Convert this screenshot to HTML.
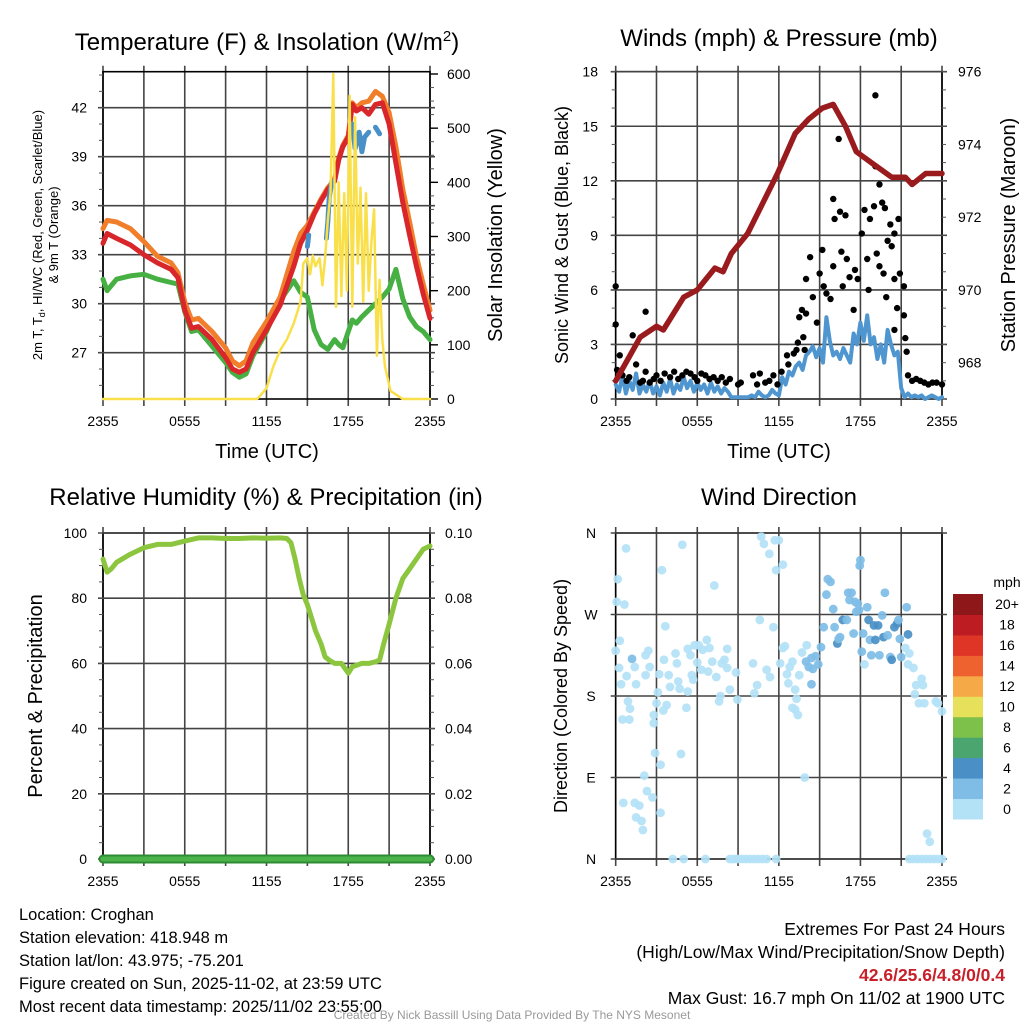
<!DOCTYPE html>
<html><head><meta charset="utf-8"><style>
html,body{margin:0;padding:0;background:#fff;}
svg{display:block;font-family:"Liberation Sans",Arial,sans-serif;}
</style></head><body>
<svg id="fig" width="1024" height="1024" viewBox="0 0 1024 1024" xmlns="http://www.w3.org/2000/svg">
<rect x="0" y="0" width="1024" height="1024" fill="#fff"/>
<text x="267" y="50" font-size="24" text-anchor="middle">Temperature (F) &amp; Insolation (W/m<tspan dy="-9" font-size="15">2</tspan><tspan dy="9">)</tspan></text>
<text x="779" y="46" font-size="24" text-anchor="middle">Winds (mph) &amp; Pressure (mb)</text>
<text x="266" y="505" font-size="24" text-anchor="middle">Relative Humidity (%) &amp; Precipitation (in)</text>
<text x="779" y="505" font-size="24" text-anchor="middle">Wind Direction</text>
<text transform="translate(42,235) rotate(-90)" font-size="13" text-anchor="middle">2m T, T<tspan dy="3" font-size="9">d</tspan><tspan dy="-3">, HI/WC (Red, Green, Scarlet/Blue)</tspan></text>
<text transform="translate(58,235) rotate(-90)" font-size="13" text-anchor="middle">&amp; 9m T (Orange)</text>
<text transform="translate(502,235) rotate(-90)" font-size="20" text-anchor="middle">Solar Insolation (Yellow)</text>
<text transform="translate(568,235) rotate(-90)" font-size="18" text-anchor="middle">Sonic Wind &amp; Gust (Blue, Black)</text>
<text transform="translate(1015,235) rotate(-90)" font-size="20" text-anchor="middle">Station Pressure (Maroon)</text>
<text transform="translate(42,696) rotate(-90)" font-size="20" text-anchor="middle">Percent &amp; Precipitation</text>
<text transform="translate(567,696) rotate(-90)" font-size="18" text-anchor="middle">Direction (Colored By Speed)</text>
<text x="267" y="458" font-size="20" text-anchor="middle">Time (UTC)</text>
<text x="779" y="458" font-size="20" text-anchor="middle">Time (UTC)</text>
<g font-size="16.5">
<text x="19" y="920">Location: Croghan</text>
<text x="19" y="943">Station elevation: 418.948 m</text>
<text x="19" y="966">Station lat/lon: 43.975; -75.201</text>
<text x="19" y="989">Figure created on Sun, 2025-11-02, at 23:59 UTC</text>
<text x="19" y="1012">Most recent data timestamp: 2025/11/02 23:55:00</text>
</g>
<g font-size="17.5" text-anchor="end">
<text x="1005" y="935">Extremes For Past 24 Hours</text>
<text x="1005" y="958">(High/Low/Max Wind/Precipitation/Snow Depth)</text>
<text x="1005" y="981" font-weight="bold" fill="#c8202a">42.6/25.6/4.8/0/0.4</text>
<text x="1005" y="1004">Max Gust: 16.7 mph On 11/02 at 1900 UTC</text>
</g>
<text x="512" y="1019" font-size="12" fill="#999" text-anchor="middle">Created By Nick Bassill Using Data Provided By The NYS Mesonet</text>
<g id="layer"></g>
</svg>
<script>
// ---- Data ----
var timeTicks = ["2355","0555","1155","1755","2355"];
var tempHours = [0,0.3,1,2,3,4,5,5.5,6,6.5,7,8,9,9.5,10,10.5,11,12,13,14,14.5,15,15.5,16,16.5,17,17.3,17.6,18,18.3,18.6,19,19.5,20,20.5,21,21.5,22,22.5,23,23.5,24];
var tempRed = [33.7,34.3,34,33.6,33,32.5,32.1,31.6,29.6,28.5,28.6,27.8,26.7,26,25.8,26,27,28.4,29.9,32.3,33.7,34.5,35.5,36.3,37,37.5,38.8,39.6,40.2,42.2,41.8,42.0,41.6,42.2,42.3,41.0,38.6,36.2,34.2,32.3,30.6,29.1];
var tempOrange = [34.6,35.1,35,34.6,33.8,32.9,32.5,31.9,30.1,29,29.1,28.3,27.3,26.5,26.2,26.5,27.6,28.9,30.4,33.2,34.3,34.8,35.6,36.4,37.1,37.6,38.9,39.7,40.3,42.3,42.0,42.3,42.4,43.0,42.7,41.7,39.6,37.0,35.0,32.9,31.2,29.6];
var tempGreen = [31.5,30.8,31.5,31.7,31.8,31.5,31.3,31.2,29.5,28.3,28.4,27.4,26.4,25.8,25.5,25.7,26.8,28.3,30.2,31.4,30.7,30.4,28.4,27.5,27.2,27.8,27.5,27.3,28.3,29.0,28.8,29.2,29.6,30.0,30.4,30.9,32.1,30.3,29.2,28.6,28.3,27.8];
var chillHours = [15,15.1,null,16.4,16.5,16.6,16.8,null,18.3,18.5,18.8,19,19.2,19.5,null,20,20.3];
var chillVals = [33.5,34.2,null,34,35,36.5,37.5,null,41,39.5,40.5,39.3,40.2,40.5,null,40.8,40.4];
var solarHours = [0,11.3,11.5,12,12.5,13,13.5,14,14.5,14.7,15,15.2,15.4,15.6,15.9,16.1,16.3,16.5,16.7,16.9,17.1,17.3,17.5,17.7,17.9,18.1,18.3,18.5,18.7,18.9,19.1,19.3,19.5,19.7,19.9,20.1,20.3,20.5,20.7,21.1,22,24];
var solarVals = [0,0,5,20,60,90,110,140,180,250,260,230,265,245,260,210,260,330,380,600,170,400,190,380,200,560,170,520,250,390,180,380,200,290,350,80,220,110,60,15,0,0];
var tempTicks = [27,30,33,36,39,42];
var solarTicks = [0,100,200,300,400,500,600];

var presHours = [0,1.8,3,3.5,5,6,7.3,7.9,8.5,9.7,10.7,11.9,13.2,14.2,15.2,16,16.9,17.7,18.8,20.3,21.3,21.8,22.8,24];
var presVals = [967.5,968.7,969.0,968.9,969.8,970.0,970.6,970.5,971.0,971.55,972.3,973.2,974.3,974.7,975.0,975.1,974.5,973.8,973.5,973.1,973.1,972.9,973.2,973.2];
var windVals = [0.8,0.4,1.3,0.3,1.0,0.5,1.4,0.3,0.8, 0.4,1.0,0.3,0.7,0.2,0.9,0.4,1.1, 0.3,0.8,0.5,1.2,0.6,1.0,0.4,0.9, 0.5,0.8,0.3,0.9,0.4,0.7,0.3,0.6, 0.4,0.1,0.1,0.1,0.1,0.1,0.1,0.2, 0.1,0.4,0.2,0.1,0.2,0.5,0.3,0.2, 1.2,0.8,1.5,1.3,1.8,2.0,1.6,2.4, 2.6,2.9,2.3,2.8,2.0,4.5,3.2,2.4, 2.6,2.2,2.8,2.4,2.0,3.6,3.0,4.2, 3.2,4.6,3.0,3.4,2.2,3.0,2.0,3.8, 3.0,2.4,2.6,0.6,0.1,0.3,0.1,0.2, 0.1,0.2,0.0,0.1,0.2,0.1,0.0,0.1];
var gustHours = [0,0,0.1,0.3,0.5,0.8,1.0,1.25,1.5,1.8,2.0,2.2,2.2,2.5,2.8,3.0,3.3,3.6,4.0,4.3,4.6,4.9,5.2,5.5,5.8,6.0,6.3,6.6,6.9,7.2,7.5,7.8,8.1,8.4,9.0,9.2,10.1,10.4,10.6,11.0,11.3,11.6,11.9,12.2,12.6,12.7,13.1,13.3,13.4,13.5,13.7,13.8,13.9,14.0,14.0,14.3,14.5,14.8,15.0,15.2,15.3,15.5,15.8,16.0,16.0,16.1,16.4,16.5,16.6,16.7,16.9,17.0,17.2,17.5,17.6,17.8,18.1,18.3,18.5,18.6,18.7,19.0,19.1,19.1,19.2,19.4,19.4,19.6,19.7,19.8,19.9,20.0,20.2,20.3,20.5,20.5,20.5,20.7,20.8,20.9,21.2,21.2,21.3,21.4,21.5,21.8,22.1,22.4,22.7,23.0,23.3,23.6,24];
var gustVals = [4.1,6.2,1.6,2.4,1.3,1.0,1.2,3.5,1.9,0.9,1.0,1.5,4.8,0.9,1.1,1.3,1.0,1.4,1.2,1.5,1.1,1.3,1.5,1.4,1.2,1.0,1.4,1.3,1.1,1.2,1.0,1.2,0.9,1.1,0.8,0.9,1.3,0.8,1.4,0.9,1.0,1.3,0.8,1.5,2.4,1.9,2.5,2.7,3.1,4.5,4.9,3.4,2.7,6.6,4.7,7.8,5.6,4.2,6.9,8.2,6.2,5.8,5.5,7.3,11.0,9.9,14.3,10.3,8.1,6.2,10.1,7.7,6.7,4.9,7.1,6.6,9.1,10.4,7.7,6.0,9.9,10.6,16.7,12.8,8.0,11.8,7.3,10.8,6.9,10.5,5.6,8.7,9.6,8.4,9.1,6.6,3.8,5.0,9.9,6.9,6.2,4.6,3.35,2.6,1.3,1.0,1.1,1.0,0.9,0.8,0.9,0.9,0.8];
var windTicks = [0,3,6,9,12,15,18];
var presTicks = [968,970,972,974,976];

var rhHours = [0,0.3,0.6,1,2,3,4,5,6,7,8,9,10,11,12,13,13.5,13.8,14.1,14.4,14.7,15,15.3,15.6,16,16.3,16.6,17,17.5,18,18.3,19,19.5,20,20.3,20.6,21,21.5,22,22.5,23,23.5,24];
var rhVals = [92,88,89,91,93.5,95.5,96.5,96.5,97.5,98.5,98.5,98.3,98.3,98.5,98.4,98.5,98.3,97,92,86,81,78,74,70,66,62,61,60,60,57,59,60,60,60.5,61,66,72,80,86,89,92,95,96];
var precipHours = [0,24];
var precipVals = [0,0];
var rhTicks = [0,20,40,60,80,100];
var precipTicks = ["0.00","0.02","0.04","0.06","0.08","0.10"];

var dirHours = [0.76,0.15,0.07,0.64,0.3,0,0.25,0.4,0.8,1.2,1.4,1.5,0.9,1.05,0.5,1.0,0.56,1.4,1.74,1.5,1.9,2.0,2.1,2.3,2.7,2.9,3.3,3.3,2.2,2.2,2.4,2.5,2.8,2.8,3.0,3.1,3.2,3.4,3.65,3.55,3.75,3.5,3.9,4.0,4.4,4.5,4.6,4.7,4.9,4.8,5.2,5.3,5.3,5.5,5.6,5.7,5.8,6.0,6.1,6.3,6.4,6.7,6.8,6.9,7.1,7.25,7.4,7.6,7.7,7.8,8.0,8.2,8.2,8.4,8.85,8.95,4.2,5.0,6.6,8.4,8.6,8.8,9.0,9.3,9.6,9.9,10.2,10.5,10.8,11.1,11.8,10.7,10.9,11.3,11.7,12.0,11.8,12.3,10.6,11.6,10.1,10.4,10.2,11.1,11.35,12.1,12.3,12.45,12.6,12.7,12.8,13.0,13.2,13.3,13.0,13.2,13.4,13.5,13.9,14.05,13.7,14.0,14.2,14.4,14.5,14.7,14.9,14.4,15.1,15.3,15.5,15.6,15.8,16.0,16.1,16.3,16.4,16.5,16.7,17.0,17.1,17.35,17.2,17.6,17.8,17.5,17.7,17.9,18.0,17.95,18.1,18.2,18.3,18.5,18.6,18.7,18.8,19.1,19.0,19.3,19.4,19.6,19.7,19.8,20.0,20.2,20.3,20.5,20.7,20.8,20.9,21.0,21.4,21.5,21.3,21.6,21.5,21.9,22.1,22.5,22.6,22.0,22.3,22.7,23.55,23.7,24,22.9,23.1,21.6,21.9,22.2,22.5,22.8,23.1,23.4,23.7,24];
var dirVals = [343,309,284,281,241,230,211,193,202,221,212,193,174,166,154,154,62,62,59,46,42,32,92,75,68,117,104,51,203,225,230,212,159,150,172,184,204,319,257,220,170,164,203,190,227,216,196,188,347,116,167,185,232,225,203,198,236,217,236,209,231,242,207,233,218,302,201,174,180,216,220,232,211,187,206,176,0,0,0,0,0,0,0,0,0,0,0,0,0,0,0,356,348,337,352,352,319,325,264,256,216,192,183,209,201,216,233,235,204,194,212,218,187,177,167,165,159,203,90,236,228,218,212,222,210,224,215,193,234,256,292,309,306,276,256,238,243,245,264,264,294,294,286,284,282,249,273,275,330,324,229,249,215,278,264,242,225,242,258,258,225,269,245,294,247,223,220,256,260,264,243,223,278,248,233,227,215,211,192,199,192,182,172,172,174,172,163,28,19,0,0,0,0,0,0,0,0,0];
var dirSpeeds = [1,1,1,1,1,1,1,1,1,3,1,1,1,1,1,1,1,1,1,1,1,1,1,1,1,1,1,1,1,1,1,1,1,1,1,1,1,1,1,1,1,1,1,1,1,1,1,1,1,1,1,1,1,1,1,1,1,1,1,1,1,1,1,1,1,1,1,1,1,1,1,1,1,1,1,1,1,1,1,1,1,1,1,1,1,1,1,1,1,1,1,1,1,1,1,1,1,1,1,1,1,1,1,1,1,1,1,1,1,1,1,1,1,1,1,1,1,1,1,1,1,3,3,3,3,3,3,3,3,3,3,3,3,3,3,5,3,3,5,3,3,3,3,3,3,3,3,3,3,3,3,3,1,3,5,3,3,5,5,5,3,3,5,3,3,3,5,5,5,3,3,3,3,5,1,1,1,1,1,1,1,1,1,1,1,1,1,1,1,1,1,1,1,1,1,1,1,1,1,1,1];
var dirTicks = ["N","E","S","W","N"];
var cbarLabels = ["0","2","4","6","8","10","12","14","16","18","20+"];
var cbarColors = ["#b3e2f7","#7fbde6","#4a90c6","#4aa66e","#7ec14a","#e6e05a","#f5a947","#ee6230","#de3527","#bd1c23","#8e1719"];

// ---- helpers ----
var NS = "http://www.w3.org/2000/svg";
var layer = document.getElementById("layer");
function mk(tag, attrs, parent) {
  var e = document.createElementNS(NS, tag);
  for (var k in attrs) e.setAttribute(k, attrs[k]);
  (parent || layer).appendChild(e);
  return e;
}
function panel(x0, x1, y0, y1) {
  return { x0: x0, x1: x1, y0: y0, y1: y1,
    sx: function (h) { return x0 + (x1 - x0) * h / 24; } };
}
function lin(v0, v1, p0, p1) { return function (v) { return p0 + (v - v0) * (p1 - p0) / (v1 - v0); }; }

function drawFrame(P, name) {
  var g = mk("g", {});
  
  
  for (var i = 0; i <= 8; i++) {
    var x = P.x0 + (P.x1 - P.x0) * i / 8;
    var l = mk("line", { x1: x, x2: x, y1: P.y0 - 6, y2: P.y1 + 7, stroke: "#444", "stroke-width": 1.6 }, g);
    
    
  }
  for (var j = 0; j < timeTicks.length; j++) {
    var t = mk("text", { x: P.x0 + (P.x1 - P.x0) * j / 4, y: P.y1 + 27, "font-size": 14, "text-anchor": "middle" }, g);
    t.textContent = timeTicks[j];
    
    
  }
  var r = mk("rect", { x: P.x0, y: P.y0, width: P.x1 - P.x0, height: P.y1 - P.y0, fill: "none", stroke: "#000", "stroke-width": 1.6 }, g);
  
  
  return g;
}
function hgrid(P, ys, g) {
  ys.forEach(function (y) {
    var l = mk("line", { x1: P.x0 - 5, x2: P.x1 + 5, y1: y, y2: y, stroke: "#444", "stroke-width": 1.6 }, g);
    
    
  });
}
function minor(x, ys, dir, g) {
  ys.forEach(function (y) {
    var l = mk("line", { x1: x, x2: x + dir * 4, y1: y, y2: y, stroke: "#555", "stroke-width": 1 }, g);
    
    
  });
}
function label(x, y, txt, anchor, g, name) {
  var t = mk("text", { x: x, y: y + 5, "font-size": 14, "text-anchor": anchor }, g);
  t.textContent = txt;
  
  
}
function pathFrom(xs, ys, sx, sy) {
  var d = "", pen = false;
  for (var i = 0; i < xs.length; i++) {
    if (xs[i] === null || ys[i] === null) { pen = false; continue; }
    d += (pen ? "L" : "M") + sx(xs[i]).toFixed(1) + "," + sy(ys[i]).toFixed(1);
    pen = true;
  }
  return d;
}
function line(xs, ys, sx, sy, color, w, name) {
  var p = mk("path", { d: pathFrom(xs, ys, sx, sy), fill: "none", stroke: color, "stroke-width": w, "stroke-linejoin": "round", "stroke-linecap": "round" });
  
  
  return p;
}

// ---- Panel 1: Temperature ----
var P1 = panel(103, 430, 71.7, 399);
var g1 = drawFrame(P1, "temp");
var yT = lin(27, 42, 352.7, 107.7);
var yS = lin(0, 600, 399, 74);
hgrid(P1, tempTicks.map(yT), g1);
tempTicks.forEach(function (v) { label(87, yT(v), String(v), "end", g1, "temp-tick-label"); });
solarTicks.forEach(function (v) { label(447, yS(v), String(v), "start", g1, "solar-tick-label"); });
var mn = []; for (var v = 25; v <= 44; v++) mn.push(yT(v)); minor(P1.x0, mn, -1, g1);
var mn2 = []; for (var s = 0; s <= 600; s += 25) mn2.push(yS(s)); minor(P1.x1, mn2, 1, g1);
solarTicks.forEach(function (v) { var l = mk("line", { x1: P1.x1, x2: P1.x1 + 8, y1: yS(v), y2: yS(v), stroke: "#000", "stroke-width": 1.4 }, g1);   });
line(tempHours, tempGreen, P1.sx, yT, "#46b043", 5, "dewpoint-line");
line(tempHours, tempOrange, P1.sx, yT, "#f07e2a", 5, "temp-9m-line");
line(tempHours, tempRed, P1.sx, yT, "#d8262a", 5, "temp-2m-line");
line(chillHours, chillVals, P1.sx, yT, "#4a90c8", 5, "windchill-line");
line(solarHours, solarVals, P1.sx, yS, "#f9e04b", 2.5, "insolation-line");

// ---- Panel 2: Winds & Pressure ----
var P2 = panel(615.7, 942, 71.7, 399);
var g2 = drawFrame(P2, "wind");
var yW = lin(0, 18, 399, 71.7);
var yP = lin(968, 976, 362.7, 71.7);
hgrid(P2, windTicks.map(yW), g2);
windTicks.forEach(function (v) { label(598, yW(v), String(v), "end", g2, "wind-tick-label"); });
presTicks.forEach(function (v) { label(958, yP(v), String(v), "start", g2, "pressure-tick-label"); });
var mn3 = []; for (var p = 967; p <= 976; p += 0.5) mn3.push(yP(p)); minor(P2.x1, mn3, 1, g2);
var mn4 = []; for (var w = 0; w <= 18; w += 1) mn4.push(yW(w)); minor(P2.x0, mn4, -1, g2);
var windHours = windVals.map(function (_, i) { return i * 0.25; });
line(windHours, windVals, P2.sx, yW, "#4f96d0", 4, "sonic-wind-line");
for (var i = 0; i < gustHours.length; i++) {
  var c = mk("circle", { cx: P2.sx(gustHours[i]), cy: yW(gustVals[i]), r: 3.2, fill: "#000" });
  
  
}
line(presHours, presVals, P2.sx, yP, "#9a1b1e", 5.5, "pressure-line");

// ---- Panel 3: RH & Precip ----
var P3 = panel(103, 430, 533, 859);
var g3 = drawFrame(P3, "rh");
var yR = lin(0, 100, 859, 533);
hgrid(P3, rhTicks.map(yR), g3);
rhTicks.forEach(function (v) { label(87, yR(v), String(v), "end", g3, "rh-tick-label"); });
precipTicks.forEach(function (v, i) { label(445, yR(i * 20), v, "start", g3, "precip-tick-label"); });
var mn5 = []; for (var q = 0; q <= 100; q += 5) mn5.push(yR(q)); minor(P3.x0, mn5, -1, g3); minor(P3.x1, mn5, 1, g3);
line(rhHours, rhVals, P3.sx, yR, "#8cc63f", 5, "rh-line");
var yPr = lin(0, 0.1, 859, 533);
line(precipHours, precipVals, P3.sx, yPr, "#2e8b35", 9, "precip-line-outline");
line(precipHours, precipVals, P3.sx, yPr, "#4cb34a", 5, "precip-line");

// ---- Panel 4: Direction ----
var P4 = panel(615.7, 942, 533, 859);
var g4 = drawFrame(P4, "direction");
var yD = lin(0, 360, 859, 533);
hgrid(P4, [0, 90, 180, 270, 360].map(yD), g4);
dirTicks.forEach(function (v, i) { label(591, yD(i * 90), v, "middle", g4, "direction-tick-label"); });
function speedColor(s) { var k = Math.min(10, Math.floor(s / 2)); return cbarColors[k]; }
for (var k = 0; k < dirHours.length; k++) {
  var d = mk("circle", { cx: P4.sx(dirHours[k]), cy: yD(dirVals[k]), r: 4.4, fill: speedColor(dirSpeeds[k]), "fill-opacity": 0.92 });
  
  
}
var cb = mk("g", {});


var cTop = 594, cBot = 819, n = cbarColors.length, ch = (cBot - cTop) / n;
for (var b = 0; b < n; b++) {
  var y = cBot - (b + 1) * ch;
  var rr = mk("rect", { x: 953, y: y, width: 30, height: ch + 0.5, fill: cbarColors[b] }, cb);
  
  
  var tl = mk("text", { x: 1007, y: y + ch / 2 + 5, "font-size": 14, "text-anchor": "middle" }, cb);
  tl.textContent = cbarLabels[b];
  
  
}
var mu = mk("text", { x: 1007, y: 587, "font-size": 14, "text-anchor": "middle" }, cb);
mu.textContent = "mph";


</script>
</body></html>
